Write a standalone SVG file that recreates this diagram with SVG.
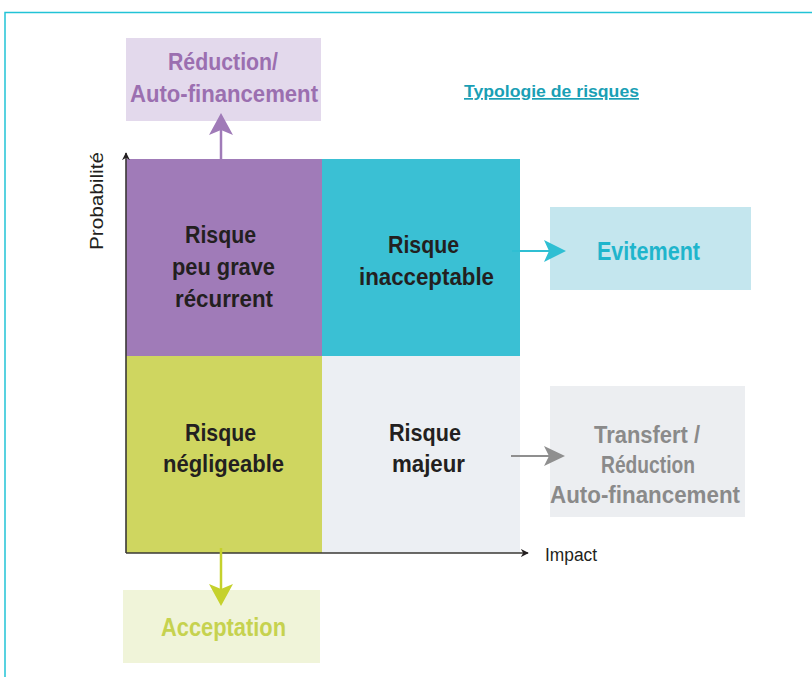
<svg xmlns="http://www.w3.org/2000/svg" width="812" height="677" viewBox="0 0 812 677">
  <style>
    text { font-family: "Liberation Sans Narrow", "Liberation Sans", Arial, sans-serif; text-anchor: middle; }
    .b { font-weight: bold; }
    .q { font-size: 24px; fill: #231f20; font-weight: bold; }
    .ax { font-size: 18px; fill: #231f20; }
    .axis { stroke: #3a3835; stroke-width: 1.6; fill: none; }
  </style>
  <defs>
    <marker id="axhead" viewBox="0 0 10 10" refX="9" refY="5" markerWidth="8" markerHeight="8" markerUnits="userSpaceOnUse" orient="auto">
      <path d="M0,0 L10,5 L0,10 L3,5 Z" fill="#231f20"/>
    </marker>
  </defs>

  <!-- frame -->
  <path d="M5,677 V12.5 H812" fill="none" stroke="#22c3d6" stroke-width="1.5"/>

  <!-- title -->
  <text x="551.5" y="97" class="b" font-size="17" fill="#1a9fb5" text-decoration="underline" textLength="175" lengthAdjust="spacingAndGlyphs">Typologie de risques</text>

  <!-- risk matrix quadrants -->
  <g id="q-recurrent">
    <rect x="126" y="159" width="196" height="197" fill="#a07bb8"/>
    <text class="q" x="220.5" y="243" textLength="71" lengthAdjust="spacingAndGlyphs">Risque</text>
    <text class="q" x="223.5" y="275" textLength="103" lengthAdjust="spacingAndGlyphs">peu grave</text>
    <text class="q" x="224" y="307" textLength="98" lengthAdjust="spacingAndGlyphs">récurrent</text>
  </g>
  <g id="q-inacceptable">
    <rect x="322" y="159" width="198" height="197" fill="#3ac0d4"/>
    <text class="q" x="423.5" y="253" textLength="71" lengthAdjust="spacingAndGlyphs">Risque</text>
    <text class="q" x="426.5" y="285" textLength="135" lengthAdjust="spacingAndGlyphs">inacceptable</text>
  </g>
  <g id="q-negligeable">
    <rect x="126" y="356" width="196" height="197" fill="#cfd660"/>
    <text class="q" x="220.5" y="441" textLength="71" lengthAdjust="spacingAndGlyphs">Risque</text>
    <text class="q" x="223.5" y="472" textLength="121" lengthAdjust="spacingAndGlyphs">négligeable</text>
  </g>
  <g id="q-majeur">
    <rect x="322" y="356" width="198" height="197" fill="#eceff3"/>
    <text class="q" x="425" y="441" textLength="72" lengthAdjust="spacingAndGlyphs">Risque</text>
    <text class="q" x="428.5" y="472" textLength="73" lengthAdjust="spacingAndGlyphs">majeur</text>
  </g>

  <!-- axes -->
  <g id="axes">
    <path class="axis" d="M126,553 V153" marker-end="url(#axhead)"/>
    <path class="axis" d="M126,553 H528" marker-end="url(#axhead)"/>
    <text class="ax" transform="translate(103,201) rotate(-90)" textLength="98" lengthAdjust="spacingAndGlyphs">Probabilité</text>
    <text class="ax" x="571" y="561" textLength="52" lengthAdjust="spacingAndGlyphs">Impact</text>
  </g>

  <!-- treatment boxes -->
  <g id="n-reduction">
    <rect x="126" y="38" width="195" height="83" fill="#e3d9ec"/>
    <text class="b" font-size="23" fill="#9b6fb0" x="223" y="70" textLength="110" lengthAdjust="spacingAndGlyphs">Réduction/</text>
    <text class="b" font-size="23" fill="#9b6fb0" x="224" y="102" textLength="188" lengthAdjust="spacingAndGlyphs">Auto-financement</text>
  </g>
  <g id="n-evitement">
    <rect x="550" y="207" width="201" height="83" fill="#c4e6ee"/>
    <text class="b" font-size="25" fill="#1fb5cc" x="648.5" y="260" textLength="103" lengthAdjust="spacingAndGlyphs">Evitement</text>
  </g>
  <g id="n-transfert">
    <rect x="550" y="386" width="195" height="131" fill="#eceef1"/>
    <text class="b" font-size="23" fill="#8a8a8a" x="647" y="443" textLength="106" lengthAdjust="spacingAndGlyphs">Transfert /</text>
    <text class="b" font-size="23" fill="#8a8a8a" x="648" y="473" textLength="94" lengthAdjust="spacingAndGlyphs">Réduction</text>
    <text class="b" font-size="23" fill="#8a8a8a" x="645" y="503" textLength="190" lengthAdjust="spacingAndGlyphs">Auto-financement</text>
  </g>
  <g id="n-acceptation">
    <rect x="123" y="590" width="197" height="73" fill="#f0f4d9"/>
    <text class="b" font-size="25" fill="#c6d24f" x="223.5" y="636" textLength="125" lengthAdjust="spacingAndGlyphs">Acceptation</text>
  </g>

  <!-- connectors -->
  <g id="connectors">
    <line x1="221" y1="159" x2="221" y2="130" stroke="#a07bb8" stroke-width="2.5"/>
    <path d="M221,113 L233,135 L221,130 L209,135 Z" fill="#a07bb8"/>

    <line x1="512" y1="251" x2="550" y2="251" stroke="#2fbfd3" stroke-width="2"/>
    <path d="M566,251 L544,240 L549,251 L544,262 Z" fill="#2fbfd3"/>

    <line x1="511" y1="456" x2="550" y2="456" stroke="#8f8f8f" stroke-width="2"/>
    <path d="M565,456 L544,446 L549,456 L544,466 Z" fill="#8f8f8f"/>

    <line x1="221" y1="548" x2="221" y2="590" stroke="#c5d12c" stroke-width="2.5"/>
    <path d="M221,606 L209,584 L221,589 L233,584 Z" fill="#c5d12c"/>
  </g>
</svg>
